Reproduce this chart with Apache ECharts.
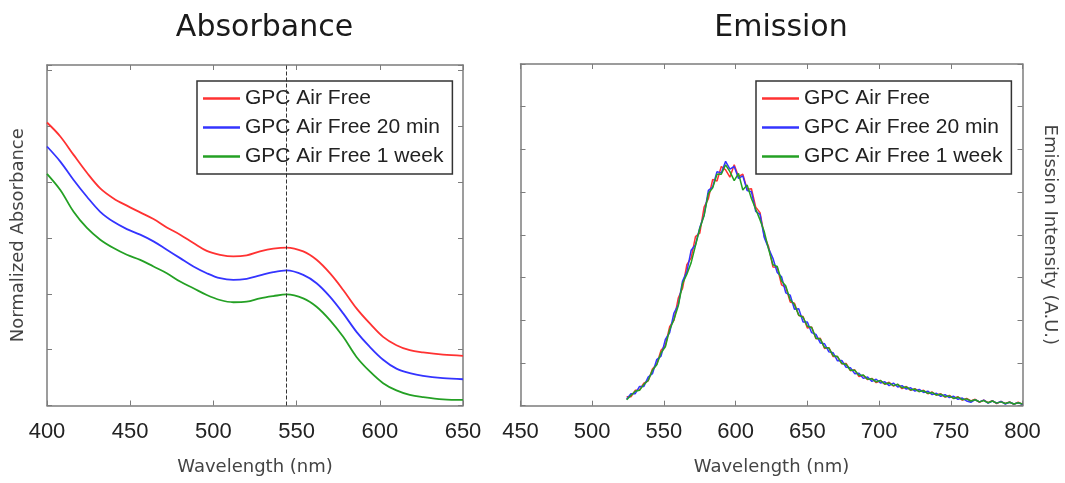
<!DOCTYPE html>
<html>
<head>
<meta charset="utf-8">
<script src="https://cdn.jsdelivr.net/npm/echarts@6/dist/echarts.min.js"></script>
<style>
html,body{margin:0;padding:0;background:#fff;}
#chart{width:1065px;height:483px;}
</style>
</head>
<body>
<div id="chart"></div>
<script>
// ---------- DATA ----------
const seriesNames = ['GPC Air Free', 'GPC Air Free 20 min', 'GPC Air Free 1 week'];
const seriesColors = ['#ff3232', '#3434ff', '#24a024'];

// Absorbance panel
const absWavelength = [400,408,416,424,432,440,448,456,464,472,480,488,496,504,512,520,528,536,544,554,562,570,578,586,594,602,610,618,626,638,650];
const absRed   = [5.07,4.82,4.49,4.17,3.89,3.71,3.58,3.46,3.34,3.19,3.06,2.91,2.77,2.70,2.67,2.69,2.76,2.81,2.83,2.76,2.61,2.37,2.07,1.74,1.47,1.23,1.08,0.99,0.95,0.91,0.89];
const absBlue  = [4.64,4.37,4.04,3.74,3.47,3.29,3.16,3.06,2.94,2.79,2.64,2.49,2.37,2.28,2.25,2.27,2.33,2.39,2.42,2.34,2.19,1.95,1.65,1.32,1.05,0.82,0.66,0.58,0.53,0.49,0.47];
const absGreen = [4.15,3.86,3.47,3.18,2.97,2.82,2.70,2.61,2.49,2.37,2.22,2.10,1.98,1.89,1.85,1.86,1.92,1.96,1.99,1.92,1.77,1.53,1.23,0.87,0.61,0.40,0.27,0.19,0.15,0.11,0.10];
const absPeakLine = 544;
const absXTicks = [400, 650, 50];   // min, max, step
const absYRange = [0, 6.1, 1];

// Emission panel
const emWavelength = [524,527,530,533,536,539,542,545,548,551,554,557,560,563,566,569,572,575,578,581,584,587,590,593,596,599,602,605,608,611,614,617,620,623,626,629,632,635,638,641,644,647,650,653,656,659,662,665,668,671,674,677,680,683,686,689,692,695,698,701,704,707,710,713,716,719,722,725,728,731,734,737,740,743,746,749,752,755,758,761,764,767,770,773,776,779,782,785,788,791,794,797,800];
const emRed   = [0.21,0.21,0.36,0.37,0.53,0.58,0.86,0.97,1.30,1.41,1.85,2.00,2.52,2.75,3.30,3.46,3.96,4.04,4.65,4.85,5.30,5.26,5.60,5.52,5.35,5.64,5.36,5.42,5.07,5.08,4.65,4.52,3.97,3.72,3.25,3.24,2.83,2.77,2.43,2.40,2.11,2.09,1.82,1.84,1.57,1.58,1.34,1.36,1.15,1.15,0.98,0.99,0.82,0.84,0.68,0.71,0.61,0.64,0.54,0.59,0.50,0.55,0.46,0.50,0.40,0.45,0.36,0.40,0.33,0.36,0.28,0.32,0.25,0.28,0.20,0.24,0.17,0.21,0.13,0.17,0.11,0.15,0.08,0.13,0.07,0.12,0.05,0.10,0.05,0.09,0.03,0.08,0.03];
const emBlue  = [0.15,0.28,0.28,0.45,0.45,0.67,0.75,1.08,1.16,1.55,1.71,2.17,2.36,2.92,3.14,3.64,3.77,4.17,4.46,5.04,5.12,5.48,5.45,5.72,5.54,5.60,5.32,5.38,5.04,5.01,4.55,4.48,3.93,3.68,3.45,3.12,3.02,2.64,2.59,2.26,2.27,1.96,1.96,1.71,1.67,1.47,1.45,1.26,1.24,1.05,1.06,0.90,0.89,0.75,0.76,0.64,0.67,0.57,0.62,0.53,0.56,0.47,0.53,0.44,0.47,0.39,0.42,0.34,0.38,0.31,0.34,0.26,0.29,0.22,0.26,0.19,0.22,0.15,0.18,0.11,0.08,0.14,0.09,0.13,0.06,0.11,0.06,0.10,0.04,0.08,0.04,0.07,0.03];
const emGreen = [0.14,0.24,0.34,0.36,0.50,0.59,0.83,0.96,1.24,1.38,1.78,2.02,2.34,2.86,3.08,3.35,3.75,4.15,4.45,4.97,5.10,5.42,5.42,5.64,5.48,5.27,5.44,5.05,5.17,4.85,4.60,4.35,4.07,3.66,3.30,3.26,2.92,2.80,2.48,2.37,2.12,2.07,1.86,1.83,1.58,1.56,1.36,1.35,1.17,1.15,0.99,0.97,0.83,0.83,0.71,0.72,0.62,0.63,0.56,0.59,0.51,0.53,0.47,0.50,0.42,0.44,0.37,0.39,0.33,0.35,0.29,0.31,0.25,0.27,0.21,0.23,0.17,0.20,0.14,0.16,0.11,0.14,0.09,0.12,0.07,0.11,0.06,0.09,0.05,0.08,0.04,0.07,0.04];
const emXTicks = [450, 800, 50];
const emYRange = [0, 8, 1];

// ---------- CHART ----------
const chart = echarts.init(document.getElementById('chart'), null, {renderer: 'canvas'});
const pair = (xs, ys) => xs.map((x, i) => [x, ys[i]]);

const frameColor = '#7c7c7c';
const labelFont = 'Liberation Sans, Arial, sans-serif';
const nameFont = 'DejaVu Sans, Verdana, sans-serif';

function xAx(gridIndex, range, position, showLabel, name) {
  return {
    type: 'value', gridIndex, position, min: range[0], max: range[1], interval: range[2],
    axisLine: {show: true, onZero: false, lineStyle: {color: frameColor, width: 1.5}},
    axisTick: {show: true, inside: true, length: 5, lineStyle: {color: frameColor, width: 1}},
    axisLabel: {show: showLabel, fontSize: 22, color: '#222', fontFamily: labelFont, margin: 15},
    splitLine: {show: false},
    name: name || '', nameLocation: 'middle', nameGap: 53,
    nameTextStyle: {fontSize: 18, color: '#444', fontFamily: nameFont}
  };
}
function yAx(gridIndex, range, position, name, rot, gap) {
  return {
    type: 'value', gridIndex, position, min: range[0], max: range[1], interval: range[2],
    axisLine: {show: true, onZero: false, lineStyle: {color: frameColor, width: 1.5}},
    axisTick: {show: true, inside: true, length: 5, lineStyle: {color: frameColor, width: 1}},
    axisLabel: {show: false},
    splitLine: {show: false},
    name: name || '', nameLocation: 'middle', nameGap: gap || 20, nameRotate: rot,
    nameTextStyle: {fontSize: 18, color: '#444', fontFamily: nameFont}
  };
}

function legend(left) {
  return {
    data: seriesNames, orient: 'vertical', left: left, top: 81,
    icon: 'rect', itemWidth: 37, itemHeight: 2.5, itemGap: 8,
    padding: [7, 9, 7, 6],
    borderColor: '#333', borderWidth: 1.5, backgroundColor: '#fff',
    textStyle: {fontSize: 21, color: '#222', fontFamily: labelFont},
    selectedMode: false
  };
}

const absData = [absRed, absBlue, absGreen];
const emData = [emRed, emBlue, emGreen];

const series = [];
absData.forEach((ys, i) => {
  const s = {
    name: seriesNames[i], type: 'line', xAxisIndex: 0, yAxisIndex: 0,
    data: pair(absWavelength, ys), smooth: 0.35, showSymbol: false,
    lineStyle: {color: seriesColors[i], width: 1.8}, itemStyle: {color: seriesColors[i]},
    z: 3
  };
  if (i === 0) {
    s.markLine = {
      silent: true, symbol: ['none', 'none'], label: {show: false},
      lineStyle: {color: '#333', type: [4, 2], width: 1},
      data: [{xAxis: absPeakLine}], z: 5
    };
  }
  series.push(s);
});
emData.forEach((ys, i) => {
  series.push({
    name: seriesNames[i], type: 'line', xAxisIndex: 2, yAxisIndex: 2,
    data: pair(emWavelength, ys), smooth: false, showSymbol: false,
    lineStyle: {color: seriesColors[i], width: 1.5}, itemStyle: {color: seriesColors[i]},
    z: 3
  });
});

chart.setOption({
  animation: false,
  backgroundColor: '#fff',
  grid: [
    {left: 47, top: 65, width: 416, height: 340.5},
    {left: 520.5, top: 64, width: 502, height: 341.7}
  ],
  xAxis: [
    xAx(0, absXTicks, 'bottom', true, 'Wavelength (nm)'),
    xAx(0, absXTicks, 'top', false),
    xAx(1, emXTicks, 'bottom', true, 'Wavelength (nm)'),
    xAx(1, emXTicks, 'top', false)
  ],
  yAxis: [
    yAx(0, absYRange, 'left', 'Normalized Absorbance', 90, 20),
    yAx(0, absYRange, 'right', ''),
    yAx(1, emYRange, 'left', ''),
    yAx(1, emYRange, 'right', 'Emission Intensity (A.U.)', -90, 18.5)
  ],
  legend: [legend(197), legend(756)],
  graphic: [
    {type: 'text', x: 264.5, y: 28, style: {text: 'Absorbance', font: '30px "DejaVu Sans", Verdana, sans-serif', fill: '#1a1a1a', align: 'center', verticalAlign: 'middle', textAlign: 'center', textVerticalAlign: 'middle'}},
    {type: 'text', x: 781, y: 28, style: {text: 'Emission', font: '30px "DejaVu Sans", Verdana, sans-serif', fill: '#1a1a1a', align: 'center', verticalAlign: 'middle', textAlign: 'center', textVerticalAlign: 'middle'}}
  ],
  series: series
});
</script>
</body>
</html>
